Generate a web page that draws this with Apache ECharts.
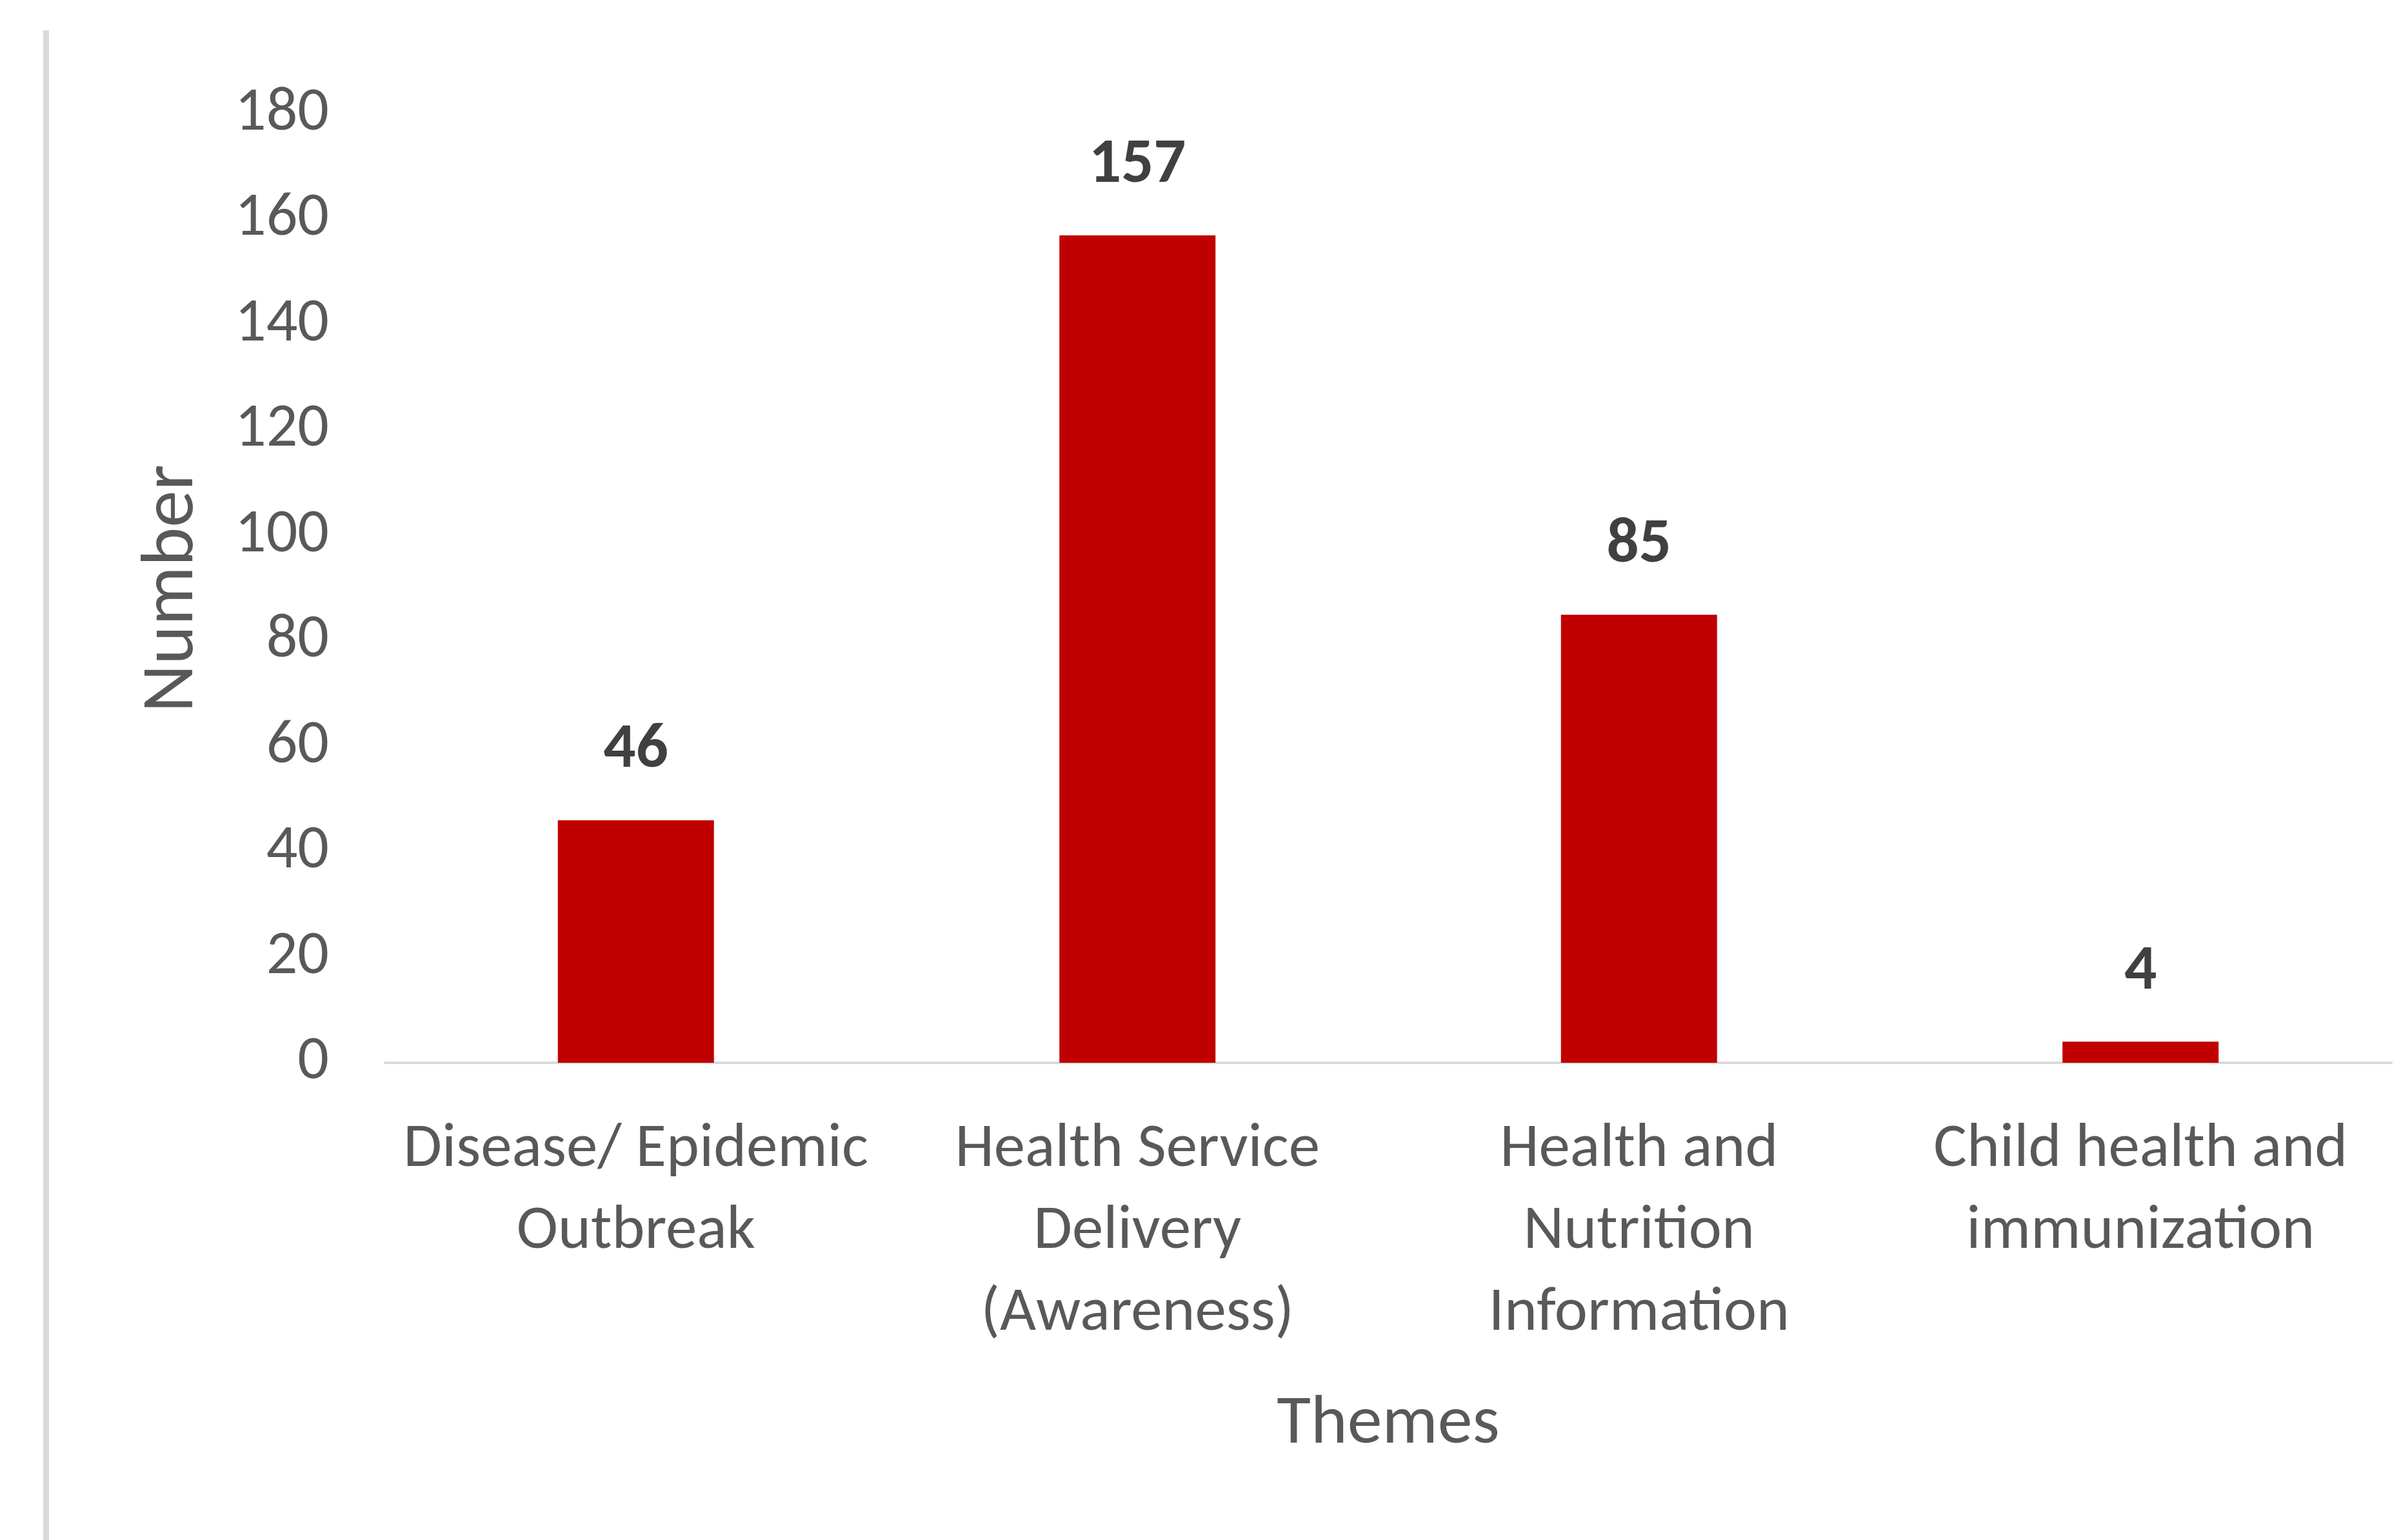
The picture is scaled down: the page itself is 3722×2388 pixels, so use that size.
<!DOCTYPE html>
<html>
<head>
<meta charset="utf-8">
<script src="https://cdn.jsdelivr.net/npm/echarts@6/dist/echarts.min.js"></script>
<style>
html,body{margin:0;padding:0;background:#fff;}
#chart{width:3722px;height:2388px;}
</style>
</head>
<body>
<div id="chart"></div>
<script>
const categories = ["Disease/ Epidemic\nOutbreak", "Health Service\nDelivery\n(Awareness)", "Health and\nNutrition\nInformation", "Child health and\nimmunization"];
const values = [46, 157, 85, 4];
const yTicks = [0, 20, 40, 60, 80, 100, 120, 140, 160, 180];

const FONT = "Carlito, Lato, 'Open Sans', sans-serif";
const chart = echarts.init(document.getElementById('chart'), null, {renderer: 'canvas'});
chart.setOption({
  backgroundColor: '#ffffff',
  animation: false,
  graphic: [{
    type: 'rect',
    shape: {x: 67, y: 47, width: 9, height: 2400},
    style: {fill: '#d9d9d9'}
  }],
  grid: {left: 597, right: 15, top: 177, bottom: 740, containLabel: false},
  xAxis: {
    type: 'category',
    data: categories,
    name: 'Themes',
    nameLocation: 'middle',
    nameGap: 508,
    nameTextStyle: {fontFamily: FONT, fontSize: 108, color: '#595959'},
    axisLine: {show: true, lineStyle: {color: '#d9d9d9', width: 4}},
    axisTick: {show: false},
    axisLabel: {fontFamily: FONT, fontSize: 97, color: '#595959', lineHeight: 127, margin: 72, interval: 0}
  },
  yAxis: {
    type: 'value',
    min: 0, max: 180, interval: 20,
    name: 'Number',
    nameLocation: 'middle',
    nameGap: 270,
    nameRotate: 90,
    nameTextStyle: {fontFamily: FONT, fontSize: 115, color: '#595959'},
    axisLine: {show: false},
    axisTick: {show: false},
    splitLine: {show: false},
    axisLabel: {fontFamily: FONT, fontSize: 96, color: '#595959', margin: 87,
      formatter: v => yTicks.includes(v) ? String(v) : ''}
  },
  series: [{
    type: 'bar',
    data: values,
    barWidth: 242,
    itemStyle: {color: '#c00000'},
    label: {show: true, position: 'top', distance: 58, fontFamily: FONT, fontSize: 99, fontWeight: 'bold', color: '#404040'}
  }]
});
</script>
</body>
</html>
